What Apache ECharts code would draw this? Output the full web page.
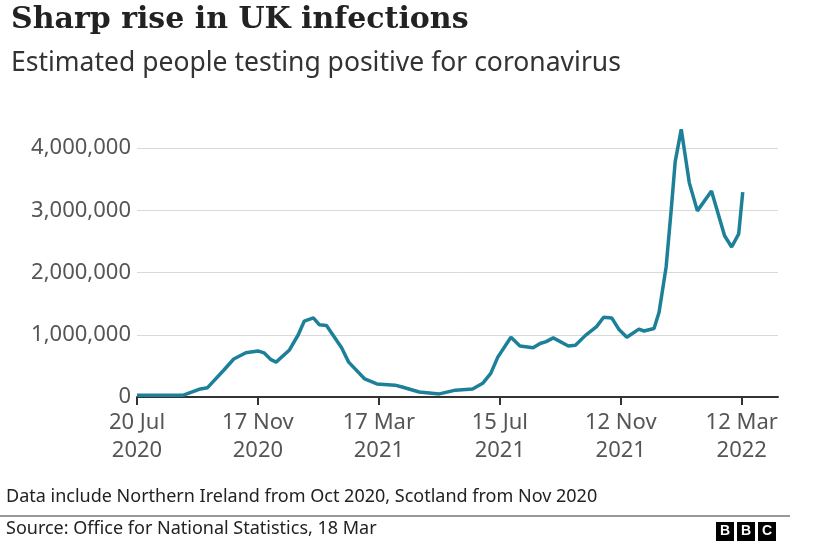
<!DOCTYPE html>
<html><head><meta charset="utf-8">
<script src="https://cdn.jsdelivr.net/npm/echarts@6/dist/echarts.min.js"></script>
<style>html,body{margin:0;background:#fff}#c{width:821px;height:554px}</style>
</head><body><div id="c"></div>
<script>
// days after 20 Jul 2020
const days = [0,46,63,70,86,96,108,120,126,133,138,151,160,166,175,181,188,203,210,226,238,256,263,280,300,316,333,343,351,358,371,380,393,400,406,413,428,435,445,456,463,471,478,486,498,503,513,518,525,530,534,540,548,556,570,583,590,597,601];
// millions
const values = [0.03,0.03,0.13,0.15,0.43,0.61,0.71,0.74,0.71,0.6,0.56,0.75,1.0,1.22,1.27,1.16,1.15,0.79,0.56,0.29,0.21,0.19,0.16,0.08,0.05,0.11,0.13,0.22,0.38,0.64,0.96,0.82,0.79,0.86,0.89,0.95,0.82,0.83,0.99,1.13,1.28,1.27,1.09,0.96,1.09,1.06,1.1,1.36,2.09,3.0,3.78,4.3,3.44,2.99,3.31,2.59,2.41,2.62,3.29];
const tickLabels = {0:'20 Jul\n2020',120:'17 Nov\n2020',240:'17 Mar\n2021',360:'15 Jul\n2021',480:'12 Nov\n2021',600:'12 Mar\n2022'};

const chart = echarts.init(document.getElementById('c'));
const font = 'Noto Sans';
function box(x, letter) {
  return [
    {type:'rect', left:x, top:522, shape:{width:18, height:19}, style:{fill:'#000'}},
    {type:'text', left:x+4, top:524, style:{text:letter, fill:'#fff', font:'bold 14px Liberation Sans'}}
  ];
}
chart.setOption({
  backgroundColor:'#fff',
  animation:false,
  title:[
    {text:'Sharp rise in UK infections', left:6, top:0, textStyle:{fontFamily:'DejaVu Serif', fontWeight:'bold', fontSize:30, color:'#222'}},
    {text:'Estimated people testing positive for coronavirus', left:6, top:45, textStyle:{fontFamily:font, fontWeight:'normal', fontSize:26.5, color:'#333'}}
  ],
  grid:{left:137, right:43, top:148, bottom:157},
  xAxis:{type:'value', min:0, max:636, interval:120,
    axisLine:{lineStyle:{color:'#333', width:2}},
    axisTick:{length:8, lineStyle:{color:'#333', width:2}},
    splitLine:{show:false},
    axisLabel:{showMaxLabel:false, formatter:v=>tickLabels[v]||'', fontFamily:font, fontSize:22, color:'#555', lineHeight:28, margin:12}},
  yAxis:{type:'value', min:0, max:4, interval:1,
    axisLine:{show:false}, axisTick:{show:false},
    splitLine:{lineStyle:{color:'#d9d9d9'}},
    axisLabel:{formatter:v=>(v*1000000).toLocaleString('en-GB'), fontFamily:font, fontSize:22, color:'#555', margin:6}},
  series:[{type:'line', data:days.map((d,i)=>[d,values[i]]), showSymbol:false, clip:false,
    lineStyle:{color:'#1d8099', width:3.5}}],
  graphic:[
    {type:'text', left:6, top:488, style:{text:'Data include Northern Ireland from Oct 2020, Scotland from Nov 2020', fill:'#222', font:'18px Noto Sans'}},
    {type:'line', shape:{x1:0, y1:516, x2:790, y2:516}, style:{stroke:'#333', lineWidth:1}},
    {type:'text', left:6, top:520, style:{text:'Source: Office for National Statistics, 18 Mar', fill:'#222', font:'18px Noto Sans'}},
    ...box(716,'B'), ...box(737,'B'), ...box(758,'C')
  ]
});
</script></body></html>
